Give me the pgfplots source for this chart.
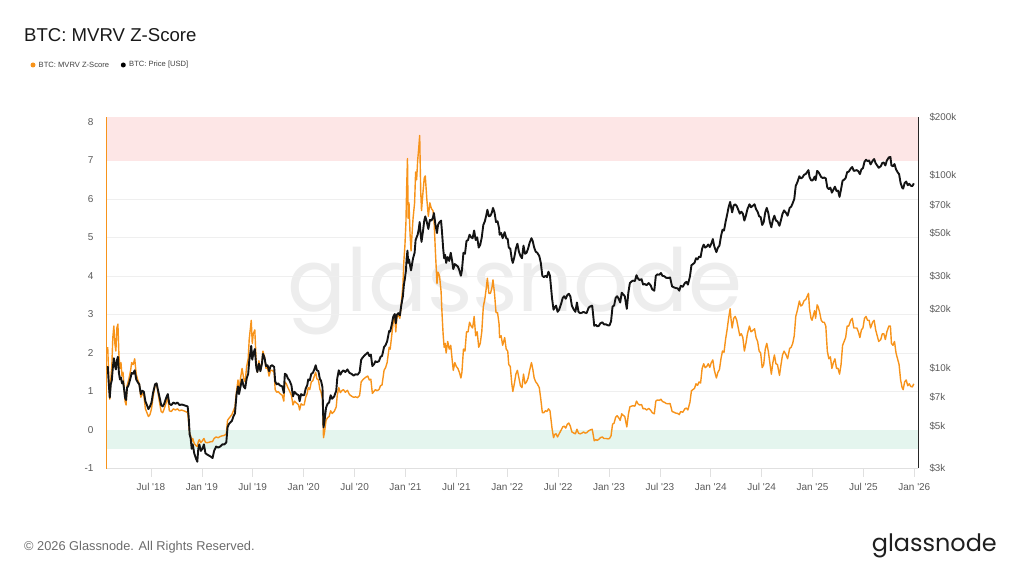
\documentclass[border=0pt]{standalone}
\usepackage{graphicx}
\usepackage{pgfplots}
\pgfplotsset{compat=1.18}
\usepackage{pgfplotstable}
\usepackage{fontspec}
\setmainfont{Liberation Sans}
\newfontfamily\logofont{Poppins}
\definecolor{btcorange}{HTML}{F7931A}
\definecolor{ticktext}{HTML}{5A5A5A}
\definecolor{gridc}{HTML}{EFEFEF}
\definecolor{bandred}{HTML}{FDE6E6}
\definecolor{bandgreen}{HTML}{E4F5EE}
\definecolor{wm}{HTML}{EDEDED}
\newcommand\q{\textquotesingle}

\pgfplotstableread{
t z p
2018.075 2.15 10200
2018.085 1.35 8300
2018.095 0.80 7000
2018.105 1.30 8200
2018.115 1.65 8600
2018.125 2.40 10000
2018.135 2.70 11200
2018.145 2.25 10300
2018.155 2.05 9800
2018.165 2.65 10900
2018.175 2.75 11400
2018.185 1.95 9400
2018.195 1.60 8700
2018.205 1.75 8900
2018.215 1.40 8300
2018.225 1.50 8500
2018.235 1.15 7800
2018.245 0.75 7000
2018.255 0.65 6800
2018.265 1.15 7900
2018.275 1.25 8000
2018.285 1.35 8300
2018.300 1.55 8900
2018.310 1.75 9400
2018.325 1.70 9300
2018.340 1.85 9700
2018.355 1.45 8700
2018.370 1.30 8400
2018.385 1.20 8200
2018.400 0.85 7300
2018.415 0.95 7600
2018.430 0.90 7500
2018.445 0.55 6700
2018.460 0.45 6400
2018.475 0.35 6100
2018.490 0.40 6300
2018.505 0.55 6600
2018.520 0.85 7400
2018.540 1.15 8200
2018.555 1.20 8300
2018.570 0.95 7600
2018.585 0.70 7000
2018.600 0.48 6400
2018.615 0.45 6300
2018.630 0.55 6500
2018.650 0.72 7000
2018.665 0.85 7300
2018.680 0.50 6500
2018.700 0.48 6400
2018.720 0.55 6600
2018.740 0.52 6500
2018.760 0.55 6600
2018.780 0.50 6400
2018.800 0.52 6450
2018.820 0.50 6400
2018.840 0.48 6350
2018.860 0.45 6300
2018.870 0.20 5600
2018.880 -0.10 4500
2018.890 -0.15 4300
2018.900 -0.30 3800
2018.910 -0.22 4000
2018.925 -0.35 3600
2018.940 -0.40 3400
2018.955 -0.43 3250
2018.965 -0.30 3800
2018.975 -0.25 4000
2018.990 -0.33 3700
2019.005 -0.28 3800
2019.020 -0.22 4000
2019.035 -0.32 3600
2019.050 -0.33 3550
2019.070 -0.32 3500
2019.090 -0.30 3450
2019.105 -0.30 3400
2019.120 -0.22 3700
2019.140 -0.18 3900
2019.160 -0.20 3850
2019.180 -0.17 3900
2019.200 -0.15 4000
2019.220 -0.14 4000
2019.240 -0.10 4100
2019.252 0.25 4900
2019.265 0.30 5100
2019.280 0.35 5200
2019.295 0.40 5300
2019.310 0.50 5600
2019.325 0.60 5800
2019.340 1.00 7200
2019.355 1.30 8000
2019.365 1.05 7300
2019.380 1.35 8000
2019.395 1.60 8700
2019.410 1.35 8000
2019.425 1.25 7800
2019.440 1.65 8800
2019.455 1.85 9300
2019.465 2.35 10800
2019.475 2.60 11800
2019.485 2.85 13000
2019.495 2.25 11000
2019.505 2.50 11800
2019.520 2.60 12500
2019.535 1.70 10000
2019.545 1.50 9500
2019.560 1.80 10500
2019.575 1.55 9600
2019.590 1.75 10500
2019.600 2.05 11800
2019.615 1.90 11300
2019.630 1.60 10200
2019.645 1.62 10300
2019.660 1.40 9600
2019.675 1.55 10200
2019.690 1.55 10300
2019.710 1.50 10100
2019.720 1.05 8500
2019.735 0.98 8200
2019.750 1.00 8300
2019.765 0.95 8100
2019.790 0.90 8000
2019.805 0.75 7400
2019.815 1.25 9300
2019.830 1.20 9200
2019.845 1.10 8800
2019.860 1.02 8600
2019.880 0.90 8100
2019.895 0.65 7100
2019.910 0.75 7500
2019.930 0.70 7300
2019.950 0.65 7200
2019.960 0.52 6700
2019.975 0.68 7300
2019.990 0.65 7200
2020.005 0.65 7200
2020.020 0.85 7800
2020.035 0.95 8100
2020.045 1.10 8700
2020.060 1.05 8600
2020.075 1.25 9300
2020.090 1.28 9400
2020.105 1.40 9800
2020.118 1.50 10300
2020.130 1.33 9700
2020.145 1.30 9600
2020.160 1.05 8700
2020.170 1.00 8600
2020.185 0.80 7900
2020.195 -0.20 4900
2020.205 -0.05 5300
2020.220 0.25 6200
2020.235 0.32 6500
2020.250 0.35 6600
2020.265 0.50 7200
2020.280 0.43 6900
2020.300 0.48 7100
2020.320 0.60 7600
2020.330 0.90 8800
2020.345 1.10 9700
2020.360 0.97 9200
2020.375 1.02 9500
2020.390 1.05 9700
2020.410 0.98 9500
2020.430 1.03 9800
2020.450 0.92 9400
2020.470 0.88 9300
2020.490 0.85 9100
2020.510 0.86 9250
2020.530 0.84 9200
2020.550 0.90 9500
2020.565 1.25 11000
2020.580 1.30 11300
2020.600 1.35 11600
2020.615 1.38 11800
2020.630 1.40 12000
2020.645 1.30 11500
2020.660 1.32 11700
2020.675 0.95 10200
2020.690 1.00 10400
2020.705 1.05 10800
2020.720 1.02 10700
2020.740 1.05 10800
2020.755 1.15 11400
2020.770 1.17 11500
2020.790 1.55 12800
2020.805 1.62 13100
2020.820 1.75 13700
2020.840 2.15 15500
2020.850 2.10 15400
2020.865 2.45 16700
2020.880 2.80 18400
2020.895 2.95 19000
2020.905 2.55 17000
2020.915 2.90 18800
2020.930 3.00 19200
2020.945 2.90 18700
2020.960 3.30 21200
2020.975 3.75 23500
2020.985 4.40 27000
2020.995 4.80 29000
2021.005 5.40 32000
2021.012 6.30 37000
2021.020 7.05 40500
2021.027 5.50 35000
2021.035 5.90 36500
2021.045 5.10 34000
2021.055 4.65 32000
2021.065 5.10 34500
2021.075 5.50 37000
2021.090 5.90 39500
2021.100 6.70 46000
2021.110 6.50 47500
2021.120 7.00 49000
2021.130 7.30 52000
2021.140 7.65 57000
2021.150 6.20 49000
2021.158 5.70 45000
2021.170 6.10 50000
2021.185 6.55 58000
2021.195 6.60 61000
2021.210 6.00 57000
2021.225 5.55 52500
2021.240 5.90 58500
2021.255 5.75 58000
2021.270 5.70 60000
2021.280 5.50 63500
2021.295 4.60 55000
2021.310 3.80 50000
2021.320 4.10 55000
2021.335 4.00 57000
2021.350 3.60 58000
2021.360 3.00 50000
2021.370 2.50 42000
2021.380 2.15 37000
2021.390 2.25 38500
2021.400 2.00 35000
2021.415 2.30 37500
2021.430 2.10 35800
2021.445 2.20 39500
2021.460 1.80 35500
2021.470 1.55 32500
2021.485 1.75 34500
2021.500 1.65 34000
2021.515 1.60 33500
2021.530 1.50 32000
2021.545 1.35 30000
2021.555 1.50 32000
2021.570 2.10 39500
2021.585 2.05 39000
2021.600 2.55 45500
2021.615 2.55 46000
2021.630 2.80 49000
2021.645 2.70 47500
2021.660 2.65 47000
2021.675 2.95 51500
2021.690 2.45 46000
2021.705 2.55 47500
2021.720 2.15 42000
2021.735 2.25 43500
2021.750 2.55 47500
2021.765 3.20 55000
2021.780 3.40 57500
2021.795 3.70 62000
2021.805 3.94 66000
2021.820 3.55 61000
2021.835 3.55 61500
2021.850 3.70 64000
2021.860 3.90 67500
2021.875 3.55 64000
2021.890 3.05 57000
2021.905 3.05 57500
2021.920 2.75 53000
2021.925 2.40 49000
2021.940 2.45 50000
2021.955 2.20 47000
2021.975 2.40 50500
2021.990 2.10 47000
2022.005 2.05 46500
2022.015 1.70 42000
2022.030 1.65 41500
2022.045 1.20 36500
2022.055 1.00 35000
2022.070 1.20 37500
2022.085 1.45 41500
2022.100 1.55 44000
2022.115 1.35 40000
2022.130 1.15 38000
2022.145 1.10 37000
2022.160 1.45 43000
2022.175 1.20 39000
2022.190 1.25 39500
2022.205 1.35 41500
2022.220 1.55 44500
2022.238 1.75 47000
2022.250 1.60 45500
2022.265 1.35 42000
2022.280 1.25 40000
2022.295 1.20 39500
2022.315 1.10 38000
2022.330 0.80 35000
2022.345 0.45 30000
2022.360 0.45 29500
2022.375 0.50 30000
2022.390 0.48 29500
2022.405 0.55 31500
2022.420 0.50 30000
2022.440 0.05 23000
2022.455 -0.20 20000
2022.465 -0.12 20500
2022.480 -0.10 21000
2022.495 -0.18 19500
2022.510 -0.10 20000
2022.530 0.00 21500
2022.545 0.08 23000
2022.560 0.10 23500
2022.575 0.05 22800
2022.590 0.15 23800
2022.605 0.18 24200
2022.620 0.10 23500
2022.635 -0.05 21000
2022.655 -0.08 20000
2022.670 -0.10 19500
2022.685 0.02 21800
2022.700 -0.08 19500
2022.715 -0.10 19200
2022.735 -0.08 19300
2022.750 -0.05 19500
2022.765 -0.08 19300
2022.780 -0.07 19200
2022.800 -0.02 20500
2022.815 0.00 20800
2022.835 0.02 21000
2022.855 -0.28 16500
2022.870 -0.25 16700
2022.885 -0.27 16400
2022.900 -0.24 16500
2022.915 -0.20 17000
2022.935 -0.18 17200
2022.950 -0.22 16800
2022.970 -0.22 16800
2022.990 -0.23 16600
2023.005 -0.22 16600
2023.020 -0.15 17400
2023.035 0.15 20800
2023.050 0.18 21000
2023.065 0.33 23000
2023.080 0.37 23500
2023.095 0.32 22800
2023.110 0.25 21800
2023.125 0.42 24500
2023.140 0.38 24000
2023.155 0.35 23500
2023.175 0.08 20200
2023.190 0.40 24500
2023.205 0.60 27500
2023.220 0.62 28000
2023.235 0.63 28300
2023.255 0.62 28200
2023.270 0.75 30200
2023.285 0.68 29000
2023.300 0.65 28500
2023.320 0.66 28800
2023.335 0.55 27000
2023.350 0.56 27200
2023.370 0.52 26800
2023.390 0.56 27500
2023.410 0.51 26700
2023.425 0.45 25500
2023.445 0.42 25100
2023.460 0.75 30000
2023.475 0.78 30500
2023.495 0.77 30400
2023.510 0.80 31000
2023.525 0.74 30000
2023.545 0.72 29800
2023.560 0.69 29300
2023.580 0.68 29200
2023.600 0.69 29400
2023.620 0.48 26400
2023.640 0.46 26100
2023.655 0.44 25900
2023.675 0.43 25800
2023.690 0.40 25100
2023.705 0.48 26600
2023.725 0.46 26300
2023.745 0.55 27500
2023.760 0.57 27900
2023.775 0.52 27000
2023.795 0.72 29700
2023.810 1.02 34000
2023.825 1.05 34500
2023.840 1.08 35000
2023.855 1.20 37000
2023.870 1.16 36500
2023.885 1.25 37700
2023.900 1.22 37500
2023.915 1.60 41500
2023.930 1.72 43500
2023.945 1.62 42000
2023.960 1.65 42500
2023.975 1.72 43600
2023.990 1.63 42300
2024.005 1.75 44000
2024.020 1.82 46500
2024.035 1.55 42500
2024.055 1.35 39800
2024.070 1.50 42000
2024.085 1.57 43000
2024.100 1.85 48000
2024.115 2.05 52000
2024.130 2.02 51500
2024.145 2.35 57000
2024.160 2.60 62000
2024.175 2.90 68000
2024.190 3.15 72500
2024.200 2.85 68000
2024.210 2.65 64000
2024.225 2.90 69500
2024.240 2.95 70500
2024.255 2.85 69000
2024.270 2.65 66000
2024.285 2.45 63000
2024.300 2.50 64500
2024.315 2.40 63000
2024.330 2.05 58000
2024.345 2.25 61500
2024.360 2.50 66500
2024.380 2.70 70500
2024.395 2.55 68000
2024.410 2.58 69000
2024.430 2.63 70500
2024.445 2.40 66500
2024.460 2.30 64500
2024.475 2.05 61000
2024.490 2.00 60500
2024.505 1.62 55000
2024.520 1.70 57000
2024.535 2.10 64000
2024.550 2.25 67500
2024.565 2.05 63500
2024.580 1.75 57000
2024.595 1.45 53500
2024.610 1.75 58500
2024.625 1.95 61500
2024.640 1.72 58000
2024.655 1.70 57500
2024.675 1.42 54500
2024.690 1.70 58500
2024.705 1.95 63000
2024.720 2.05 65500
2024.740 1.95 63500
2024.755 1.85 61500
2024.775 2.12 67500
2024.790 2.15 68500
2024.805 2.25 71500
2024.820 2.45 75000
2024.835 2.95 88000
2024.850 3.10 91500
2024.870 3.35 98500
2024.885 3.22 96000
2024.900 3.25 97000
2024.915 3.35 100000
2024.935 3.40 101500
2024.960 3.55 106000
2024.970 3.15 97500
2024.985 2.90 94000
2024.995 2.85 93500
2025.005 2.95 94500
2025.020 3.10 98000
2025.030 2.90 94000
2025.045 3.25 105000
2025.055 3.20 104000
2025.070 3.05 101000
2025.085 2.85 97500
2025.100 2.80 96500
2025.115 2.80 97000
2025.130 2.70 96000
2025.145 2.05 86000
2025.160 1.85 84500
2025.175 1.90 86000
2025.190 1.60 81000
2025.205 1.75 84000
2025.220 1.85 87000
2025.235 1.60 82500
2025.250 1.60 83000
2025.265 1.45 77000
2025.280 1.70 84500
2025.295 2.20 93500
2025.310 2.30 94500
2025.325 2.40 96500
2025.340 2.70 103500
2025.355 2.70 104000
2025.375 2.85 108000
2025.390 2.90 110000
2025.405 2.65 105000
2025.420 2.65 105500
2025.435 2.65 106000
2025.450 2.55 104500
2025.465 2.40 101000
2025.480 2.60 107000
2025.495 2.65 108500
2025.510 2.90 117000
2025.525 2.95 120000
2025.540 2.85 118000
2025.555 2.85 119000
2025.570 2.65 113500
2025.590 2.80 118500
2025.605 2.85 121000
2025.620 2.60 115000
2025.635 2.45 112000
2025.650 2.30 109000
2025.670 2.35 111000
2025.685 2.50 115500
2025.700 2.50 116000
2025.715 2.35 112000
2025.730 2.55 119000
2025.750 2.70 123500
2025.765 2.70 124000
2025.775 2.25 112000
2025.790 2.20 111000
2025.805 2.30 114000
2025.820 2.00 107000
2025.835 1.85 103500
2025.850 1.70 101000
2025.865 1.30 91000
2025.880 1.10 86000
2025.890 1.05 85000
2025.905 1.25 91000
2025.920 1.30 92500
2025.935 1.15 88500
2025.950 1.20 90000
2025.965 1.13 88000
2025.980 1.12 87500
2025.995 1.20 90500
}\data

\begin{document}
\begin{tikzpicture}
\path[use as bounding box] (0,0) rectangle (1024pt,576pt);
% watermark
\node[anchor=base,inner sep=0,text=wm] at (515pt,264pt) {\resizebox{454pt}{!}{\logofont glassnode}};

\begin{axis}[
  at={(106pt,107.5pt)}, anchor=south west,
  width=812pt, height=351.5pt, scale only axis,
  xmin=2018.058, xmax=2026.036, ymin=-1, ymax=8.13,
  axis x line*=bottom, axis y line*=left,
  x axis line style={draw=black!12, -},
  y axis line style={draw=btcorange, line width=0.9pt, -},
  xtick={2018.5,2019,2019.5,2020,2020.5,2021,2021.5,2022,2022.5,2023,2023.5,2024,2024.5,2025,2025.5,2026},
  xticklabels={Jul \q18,Jan \q19,Jul \q19,Jan \q20,Jul \q20,Jan \q21,Jul \q21,Jan \q22,Jul \q22,Jan \q23,Jul \q23,Jan \q24,Jul \q24,Jan \q25,Jul \q25,Jan \q26},
  ytick={-1,0,1,2,3,4,5,6,7,8},
  yticklabels={-1,0,1,2,3,4,5,6,7,8},
  tick align=outside, major tick length=8pt,
  xtick style={draw=black!12, line width=0.6pt},
  ytick style={draw=none},
  tick label style={text=ticktext, font=\fontsize{10}{12}\selectfont},
  xticklabel style={yshift=-3pt},
  yticklabel style={xshift=-1pt},
  ymajorgrids, grid style={draw=gridc, line width=0.7pt},
  clip=true,
]
\fill[bandred] (axis cs:2018.064,7) rectangle (axis cs:2026.036,8.13);
\fill[bandgreen] (axis cs:2018.064,-0.5) rectangle (axis cs:2026.036,0);
\addplot[btcorange, line width=1.4pt, line join=round] table[x=t, y=z] {\data};
\end{axis}

\begin{axis}[
  at={(106pt,107.5pt)}, anchor=south west,
  width=812pt, height=351.5pt, scale only axis,
  xmin=2018.058, xmax=2026.036,
  ymode=log, ymin=3000, ymax=200000,
  axis x line=none, axis y line*=right,
  y axis line style={draw=black!85, line width=0.8pt, -},
  ytick={3000,5000,7000,10000,20000,30000,50000,70000,100000,200000},
  yticklabels={\$3k,\$5k,\$7k,\$10k,\$20k,\$30k,\$50k,\$70k,\$100k,\$200k},
  tick align=outside, major tick length=8pt,
  ytick style={draw=none},
  yticklabel style={text=ticktext, font=\fontsize{9.8}{12}\selectfont},
]
\addplot[black!92, line width=1.9pt, line join=round] table[x=t, y=p] {\data};
\end{axis}

% title and legend
\node[anchor=base west, inner sep=0, text=black!90, font=\fontsize{18.6}{22}\selectfont] at (24pt,534.3pt) {BTC: MVRV Z-Score};
\fill[btcorange] (33pt,511pt) circle (2.5pt);
\node[anchor=west, inner sep=0, text=black!75, font=\fontsize{7.6}{9}\selectfont] at (38.5pt,511pt) {BTC: MVRV Z-Score};
\fill[black] (123.3pt,511pt) circle (2.5pt);
\node[anchor=west, inner sep=0, text=black!75, font=\fontsize{7.6}{9}\selectfont] at (129pt,511pt) {BTC: Price [USD]};
% footer
\node[anchor=base west, inner sep=0, text=black!58, font=\fontsize{12.8}{15}\selectfont] at (24pt,25.4pt) {\textcopyright{} 2026 Glassnode. All Rights Reserved.};
\node[anchor=base east, inner sep=0, text=black!88] at (997pt,24.5pt) {\resizebox{125pt}{!}{\logofont glassnode}};
\end{tikzpicture}
\end{document}
